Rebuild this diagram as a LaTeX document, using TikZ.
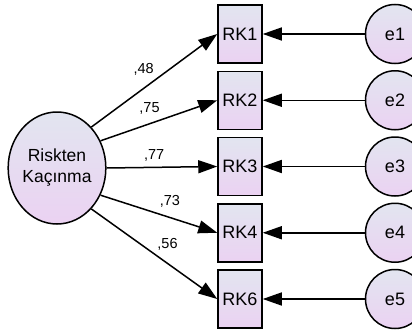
\documentclass[tikz,border=0pt]{standalone}
\usepackage{fontspec}
\setmainfont{Liberation Sans}
\usetikzlibrary{arrows.meta,shapes.geometric}

\definecolor{shadetop}{RGB}{226,229,240}
\definecolor{shadebot}{RGB}{235,210,242}

\begin{document}
\begin{tikzpicture}[x=1pt,y=-1pt,line width=1.5pt,
  >={Triangle[length=19pt,width=13pt]},
  obs/.style={draw,top color=shadetop,bottom color=shadebot,
    minimum width=44pt,minimum height=58pt,inner sep=0pt,
    font=\fontsize{18}{20}\selectfont},
  err/.style={draw,circle,top color=shadetop,bottom color=shadebot,
    minimum size=59pt,inner sep=0pt,font=\fontsize{18}{20}\selectfont},
  lat/.style={draw,ellipse,top color=shadetop,bottom color=shadebot,
    minimum width=88pt,minimum height=112pt,inner sep=0pt,align=center,
    font=\fontsize{17.5}{21}\selectfont},
  coef/.style={font=\fontsize{14.5}{15}\selectfont,inner sep=0pt}]

\useasboundingbox (0,0) rectangle (412,332);

\def\bx{240}
\def\ex{395}

\node[lat] (risk) at (57,168) {Riskten\\Kaçınma};

\node[obs] (rk1) at (\bx,34) {RK1};
\node[obs] (rk2) at (\bx,100.25) {RK2};
\node[obs] (rk3) at (\bx,166.5) {RK3};
\node[obs] (rk4) at (\bx,232.75) {RK4};
\node[obs] (rk6) at (\bx,299) {RK6};

\node[err] (e1) at (\ex,34) {e1};
\node[err] (e2) at (\ex,100.25) {e2};
\node[err] (e3) at (\ex,166.5) {e3};
\node[err] (e4) at (\ex,232.75) {e4};
\node[err] (e5) at (\ex,299) {e5};

\draw[->] (risk.50) -- node[coef,pos=.416,yshift=18.5pt] (c1) {,48} (rk1.west);
\draw[->] (risk.32) -- node[coef,pos=.42,yshift=15pt] (c2) {,75} (rk2.west);
\draw[->] (risk.0) -- node[coef,pos=.43,yshift=12pt] (c3) {,77} (rk3.west);
\draw[->] (risk.-32) -- node[coef,pos=.595,yshift=15.8pt] (c4) {,73} (rk4.west);
\draw[->] (risk.-50) -- node[coef,pos=.605,yshift=19.5pt] (c5) {,56} (rk6.west);

\draw[->] (e1) -- (rk1);
\draw[->] (e2) -- (rk2);
\draw[->] (e3) -- (rk3);
\draw[->] (e4) -- (rk4);
\draw[->] (e5) -- (rk6);

\end{tikzpicture}
\end{document}
